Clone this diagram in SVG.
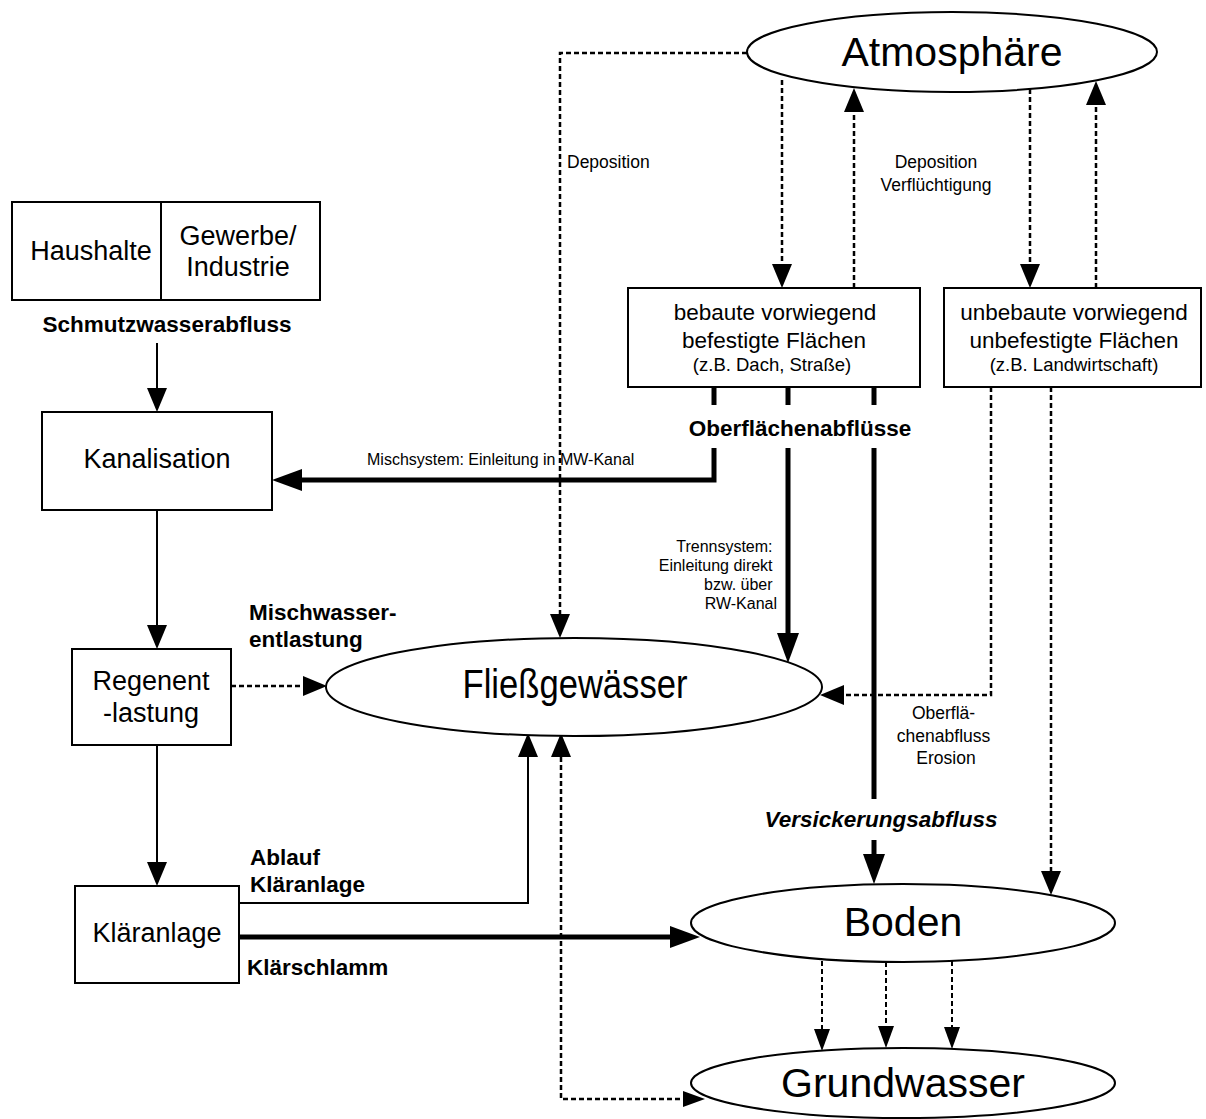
<svg xmlns="http://www.w3.org/2000/svg" width="1206" height="1119" viewBox="0 0 1206 1119">
  <style>
    text { font-family: "Liberation Sans", Arial, sans-serif; fill: #000; }
    .box { fill: #fff; stroke: #000; stroke-width: 2; }
    .ell { fill: #fff; stroke: #000; stroke-width: 2; }
    .big { font-size: 41px; text-anchor: middle; }
    .node { font-size: 27px; text-anchor: middle; }
    .area { font-size: 22.5px; text-anchor: middle; }
    .area-s { font-size: 18.5px; text-anchor: middle; }
    .lbl { font-size: 16px; }
    .lbl-m { font-size: 17.5px; }
    .bold { font-size: 22.5px; font-weight: bold; }
    .solid { fill: none; stroke: #000; stroke-width: 2; }
    .thick { fill: none; stroke: #000; stroke-width: 5; }
    .dot { fill: none; stroke: #000; stroke-width: 2.5; stroke-dasharray: 5 3; }
    .dot-s { fill: none; stroke: #000; stroke-width: 2; stroke-dasharray: 5 3; }
  </style>
  <defs>
    <!-- arrowheads: base sits on the line end, tip extends beyond it -->
    <marker id="ah" markerUnits="userSpaceOnUse" markerWidth="24" markerHeight="20" refX="0" refY="10" orient="auto-start-reverse" overflow="visible">
      <path d="M0,0 L24,10 L0,20 Z" fill="#000"/>
    </marker>
    <marker id="ah-thick" markerUnits="userSpaceOnUse" markerWidth="30" markerHeight="22" refX="0" refY="11" orient="auto" overflow="visible">
      <path d="M0,0 L30,11 L0,22 Z" fill="#000"/>
    </marker>
    <marker id="ah-s" markerUnits="userSpaceOnUse" markerWidth="22" markerHeight="16" refX="0" refY="8" orient="auto-start-reverse" overflow="visible">
      <path d="M0,0 L22,8 L0,16 Z" fill="#000"/>
    </marker>
  </defs>

  <rect width="1206" height="1119" fill="#fff"/>

  <!-- connectors -->
  <g id="connectors">
    <!-- sewage chain on the left -->
    <path class="solid" d="M157,343 V388" marker-end="url(#ah)"/>
    <path class="solid" d="M157,510 V625" marker-end="url(#ah)"/>
    <path class="solid" d="M157,745 V862" marker-end="url(#ah)"/>
    <path class="dot" d="M231,686 H303" marker-end="url(#ah)"/>
    <path class="solid" d="M239,903 H528 V757" marker-end="url(#ah)"/>
    <path class="thick" d="M239,937 H670" marker-end="url(#ah-thick)"/>

    <!-- surface runoff from sealed areas -->
    <path class="thick" d="M714,387 V405 M788,387 V405 M874,387 V405"/>
    <path class="thick" d="M714,448 V480 H302" marker-end="url(#ah-thick)"/>
    <path class="thick" d="M788,448 V633" marker-end="url(#ah-thick)"/>
    <path class="thick" d="M874,448 V799"/>
    <path class="thick" d="M874,840 V854" marker-end="url(#ah-thick)"/>

    <!-- atmosphere exchange -->
    <path class="dot" d="M747,53 H560 V614" marker-end="url(#ah)"/>
    <path class="dot" d="M782,80 V264" marker-end="url(#ah)"/>
    <path class="dot" d="M854,288 V112" marker-end="url(#ah)"/>
    <path class="dot" d="M1030,89 V264" marker-end="url(#ah)"/>
    <path class="dot" d="M1096,288 V105" marker-end="url(#ah)"/>

    <!-- unsealed areas -->
    <path class="dot" d="M991,387 V695 H844" marker-end="url(#ah)"/>
    <path class="dot" d="M1051,387 V871" marker-end="url(#ah)"/>

    <!-- soil to groundwater, river to groundwater -->
    <path class="dot-s" d="M822,961 V1029" marker-end="url(#ah-s)"/>
    <path class="dot-s" d="M886,962 V1026" marker-end="url(#ah-s)"/>
    <path class="dot-s" d="M952,961 V1027" marker-end="url(#ah-s)"/>
    <path class="dot" d="M561,757 V1099 H683" marker-start="url(#ah)" marker-end="url(#ah-s)"/>

    <!-- connector labels -->
    <text class="lbl-m" x="567" y="168">Deposition</text>
    <text class="lbl-m" x="936" y="168" text-anchor="middle">Deposition</text>
    <text class="lbl-m" x="936" y="191" text-anchor="middle">Verflüchtigung</text>
    <text class="bold" x="167" y="332" text-anchor="middle">Schmutzwasserabfluss</text>
    <text class="bold" x="800" y="436" text-anchor="middle" font-size="23.5">Oberflächenabflüsse</text>
    <text class="lbl" x="367" y="465">Mischsystem: Einleitung in MW-Kanal</text>
    <text class="lbl" text-anchor="end">
      <tspan x="777" y="552">Trennsystem:</tspan>
      <tspan x="777" y="571">Einleitung direkt</tspan>
      <tspan x="777" y="590">bzw. über</tspan>
      <tspan x="777" y="609">RW-Kanal</tspan>
    </text>
    <text class="bold" x="249" y="620">Mischwasser-</text>
    <text class="bold" x="249" y="647">entlastung</text>
    <text class="lbl-m" text-anchor="middle" font-size="18.5">
      <tspan x="946" y="719">Oberflä-</tspan>
      <tspan x="946" y="742">chenabfluss</tspan>
      <tspan x="946" y="764">Erosion</tspan>
    </text>
    <text class="bold" x="881" y="827" text-anchor="middle" font-style="italic" font-size="20.5">Versickerungsabfluss</text>
    <text class="bold" x="250" y="865">Ablauf</text>
    <text class="bold" x="250" y="892">Kläranlage</text>
    <text class="bold" x="247" y="975">Klärschlamm</text>
  </g>

  <!-- nodes -->
  <g id="atmosphaere">
    <ellipse class="ell" cx="952" cy="52" rx="205" ry="40"/>
    <text class="big" x="952" y="66" font-size="43">Atmosphäre</text>
  </g>

  <g id="haushalte-gewerbe">
    <rect class="box" x="12" y="202" width="308" height="98"/>
    <line x1="161" y1="202" x2="161" y2="300" stroke="#000" stroke-width="2"/>
    <text class="node" x="91" y="260">Haushalte</text>
    <text class="node" x="238" y="245">Gewerbe/</text>
    <text class="node" x="238" y="276">Industrie</text>
  </g>

  <g id="kanalisation">
    <rect class="box" x="42" y="412" width="230" height="98"/>
    <text class="node" x="157" y="468">Kanalisation</text>
  </g>

  <g id="regenentlastung">
    <rect class="box" x="72" y="649" width="159" height="96"/>
    <text class="node" x="151" y="690">Regenent</text>
    <text class="node" x="151" y="722">-lastung</text>
  </g>

  <g id="klaeranlage">
    <rect class="box" x="75" y="886" width="164" height="97"/>
    <text class="node" x="157" y="942">Kläranlage</text>
  </g>

  <g id="bebaute-flaechen">
    <rect class="box" x="628" y="288" width="292" height="99"/>
    <text class="area" x="775" y="320">bebaute vorwiegend</text>
    <text class="area" x="774" y="348">befestigte Flächen</text>
    <text class="area-s" x="772" y="371">(z.B. Dach, Straße)</text>
  </g>

  <g id="unbebaute-flaechen">
    <rect class="box" x="944" y="288" width="257" height="99"/>
    <text class="area" x="1074" y="320">unbebaute vorwiegend</text>
    <text class="area" x="1074" y="348">unbefestigte Flächen</text>
    <text class="area-s" x="1074" y="371" font-size="19.5">(z.B. Landwirtschaft)</text>
  </g>

  <g id="fliessgewaesser">
    <ellipse class="ell" cx="574" cy="687" rx="248" ry="49"/>
    <text class="big" x="575" y="698" font-size="39" textLength="225" lengthAdjust="spacingAndGlyphs">Fließgewässer</text>
  </g>

  <g id="boden">
    <ellipse class="ell" cx="903" cy="923" rx="212" ry="39"/>
    <text class="big" x="903" y="936">Boden</text>
  </g>

  <g id="grundwasser">
    <ellipse class="ell" cx="903" cy="1083" rx="212" ry="35"/>
    <text class="big" x="903" y="1097">Grundwasser</text>
  </g>
</svg>
